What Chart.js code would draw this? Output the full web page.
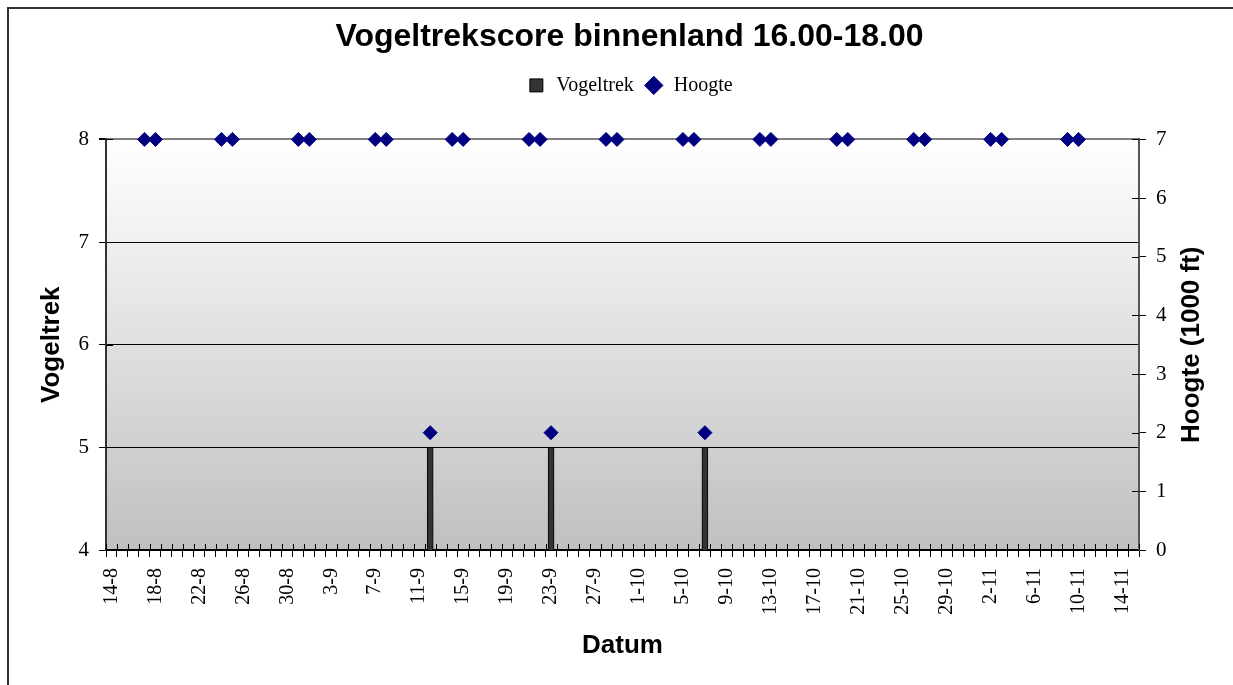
<!DOCTYPE html>
<html lang="nl">
<head>
  <meta charset="UTF-8">
  <title>Vogeltrekscore binnenland 16.00-18.00</title>
  <script src="https://cdn.jsdelivr.net/npm/chart.js"></script>
  <style>
    body {
      margin: 0;
      background: #fff;
      overflow: hidden;
    }
    .frame {
      position: absolute;
      left: 7px;
      top: 7px;
      width: 1260px;
      height: 720px;
      border: 2px solid #333;
      pointer-events: none;
    }
    canvas { display: block; }
  </style>
</head>
<body>
<div class="frame"></div>
<canvas id="chart" width="1233" height="685"></canvas>

<script>
  const dates = [
    '14-8','15-8','16-8','17-8','18-8','19-8','20-8','21-8','22-8','23-8','24-8','25-8','26-8','27-8','28-8','29-8','30-8','31-8',
    '1-9','2-9','3-9','4-9','5-9','6-9','7-9','8-9','9-9','10-9','11-9','12-9','13-9','14-9','15-9','16-9','17-9','18-9','19-9','20-9',
    '21-9','22-9','23-9','24-9','25-9','26-9','27-9','28-9','29-9','30-9',
    '1-10','2-10','3-10','4-10','5-10','6-10','7-10','8-10','9-10','10-10','11-10','12-10','13-10','14-10','15-10','16-10','17-10',
    '18-10','19-10','20-10','21-10','22-10','23-10','24-10','25-10','26-10','27-10','28-10','29-10','30-10','31-10',
    '1-11','2-11','3-11','4-11','5-11','6-11','7-11','8-11','9-11','10-11','11-11','12-11','13-11','14-11','15-11'
  ];

  // Vogeltrek (left axis)
  const trekDays = ['12-9', '23-9', '7-10'];
  const trekValues = [5, 5, 5];

  // Hoogte in 1000 ft (right axis)
  const hoogteDays = [
    '17-8','18-8','24-8','25-8','31-8','1-9','7-9','8-9','14-9','15-9','21-9','22-9','28-9','29-9',
    '5-10','6-10','12-10','13-10','19-10','20-10','26-10','27-10','2-11','3-11','9-11','10-11',
    '12-9','23-9','7-10'
  ];
  const hoogteValues = [
    7, 7, 7, 7, 7, 7, 7, 7, 7, 7, 7, 7, 7, 7,
    7, 7, 7, 7, 7, 7, 7, 7, 7, 7, 7, 7,
    2, 2, 2
  ];

  const rightTitle = 'Hoogte (1000 ft)';

  function toSeries(days, values) {
    const out = dates.map(() => null);
    days.forEach((d, i) => { out[dates.indexOf(d)] = values[i]; });
    return out;
  }

  Chart.defaults.font.family = "'Liberation Serif', 'Times New Roman', serif";
  Chart.defaults.color = '#000';

  const titleFont = { family: "'Liberation Sans', Arial, sans-serif", size: 26, weight: 'bold' };

  // plot background: white at the top to grey at the bottom
  const plotBackground = {
    id: 'plotBackground',
    beforeDraw(chart) {
      const { ctx, chartArea: a } = chart;
      const g = ctx.createLinearGradient(0, a.top, 0, a.bottom);
      g.addColorStop(0, '#ffffff');
      g.addColorStop(1, '#c0c0c0');
      ctx.save();
      ctx.fillStyle = g;
      ctx.fillRect(a.left, a.top, a.right - a.left, a.bottom - a.top);
      ctx.restore();
    }
  };

  // the inner half of the tick marks (Excel draws them across the axis)
  const innerTicks = {
    id: 'innerTicks',
    beforeDatasetsDraw(chart) {
      const { ctx, chartArea: a, scales: { x, y, y1 } } = chart;
      ctx.save();
      ctx.strokeStyle = '#000';
      ctx.lineWidth = 1;
      ctx.beginPath();
      const step = x.getPixelForValue(1) - x.getPixelForValue(0);
      for (let i = 0; i <= dates.length; i++) {
        const px = Math.round(x.getPixelForValue(i) - step / 2) + 0.5;
        ctx.moveTo(px, a.bottom);
        ctx.lineTo(px, a.bottom - 6);
      }
      y.ticks.forEach(t => {
        const py = Math.round(y.getPixelForValue(t.value)) + 0.5;
        ctx.moveTo(a.left, py);
        ctx.lineTo(a.left + 7, py);
      });
      y1.ticks.forEach(t => {
        const py = Math.round(y1.getPixelForValue(t.value)) + 0.5;
        ctx.moveTo(a.right, py);
        ctx.lineTo(a.right - 7, py);
      });
      ctx.stroke();
      ctx.restore();
    }
  };

  // right axis title reads bottom to top, like the left one
  const rightAxisTitle = {
    id: 'rightAxisTitle',
    afterDraw(chart) {
      const { ctx, chartArea: a } = chart;
      ctx.save();
      ctx.translate(1192, (a.top + a.bottom) / 2);
      ctx.rotate(-Math.PI / 2);
      ctx.font = 'bold 26px "Liberation Sans", Arial, sans-serif';
      ctx.fillStyle = '#000';
      ctx.textAlign = 'center';
      ctx.textBaseline = 'middle';
      ctx.fillText(rightTitle, 0, 0);
      ctx.restore();
    }
  };

  // extra room between legend and plot
  const legendGap = {
    id: 'legendGap',
    beforeInit(chart) {
      const fit = chart.legend.fit;
      chart.legend.fit = function () {
        fit.bind(chart.legend)();
        this.height += 34;
      };
    }
  };

  new Chart(document.getElementById('chart'), {
    type: 'bar',
    data: {
      labels: dates,
      datasets: [
        {
          label: 'Vogeltrek',
          data: toSeries(trekDays, trekValues),
          yAxisID: 'y',
          backgroundColor: '#333333',
          borderColor: '#000000',
          borderWidth: 1,
          barThickness: 6,
          pointStyle: 'rect'
        },
        {
          type: 'line',
          label: 'Hoogte',
          data: toSeries(hoogteDays, hoogteValues),
          yAxisID: 'y1',
          showLine: false,
          pointStyle: 'rectRot',
          pointRadius: 7,
          pointHoverRadius: 7,
          backgroundColor: '#000080',
          borderColor: '#000080',
          borderWidth: 1,
          clip: false
        }
      ]
    },
    options: {
      responsive: false,
      animation: false,
      devicePixelRatio: 1,
      layout: { padding: { left: 26 } },
      plugins: {
        title: {
          display: true,
          text: 'Vogeltrekscore binnenland 16.00-18.00',
          color: '#000',
          font: { family: "'Liberation Sans', Arial, sans-serif", size: 32, weight: 'bold' },
          padding: { top: 18, bottom: 9 }
        },
        legend: {
          display: true,
          labels: {
            usePointStyle: true,
            boxHeight: 13,
            color: '#000',
            font: { size: 20 }
          }
        },
        tooltip: { enabled: false }
      },
      scales: {
        x: {
          grid: { display: true, drawOnChartArea: false, tickLength: 7, color: '#000', tickColor: '#000' },
          border: { color: '#000', width: 2 },
          ticks: {
            autoSkip: false,
            minRotation: 90,
            maxRotation: 90,
            padding: 11,
            font: { size: 20 },
            callback(value, index) { return index % 4 === 0 ? dates[index] : ''; }
          },
          title: { display: true, text: 'Datum', font: titleFont, padding: { bottom: 24 } },
          afterFit(scale) { scale.height = 135; }
        },
        y: {
          position: 'left',
          min: 4,
          max: 8,
          ticks: { stepSize: 1, padding: 10, font: { size: 21 } },
          grid: {
            color: c => (c.tick && c.tick.value === 8 ? '#808080' : '#000'),
            lineWidth: c => (c.tick && c.tick.value === 8 ? 2 : 1),
            tickColor: '#000',
            tickLength: 7
          },
          border: { color: '#333', width: 2 },
          title: { display: true, text: 'Vogeltrek', font: titleFont, padding: { top: 10 } },
          afterFit(scale) { scale.width = 80; }
        },
        y1: {
          position: 'right',
          min: 0,
          max: 7,
          ticks: { stepSize: 1, padding: 10, font: { size: 21 } },
          grid: { drawOnChartArea: false, tickLength: 7, tickColor: '#000' },
          border: { color: '#555', width: 2 },
          afterFit(scale) { scale.width = 94; }
        }
      }
    },
    plugins: [plotBackground, innerTicks, rightAxisTitle, legendGap]
  });
</script>
</body>
</html>
